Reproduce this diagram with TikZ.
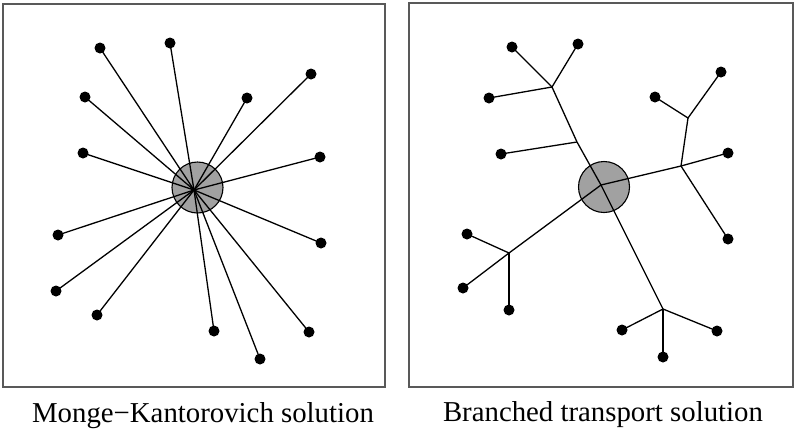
\documentclass[tikz,border=0pt]{standalone}
\usepackage{fontspec}
\setmainfont{Liberation Serif}
\begin{document}
\begin{tikzpicture}[x=1pt,y=-1pt,
  dot/.style={circle,fill=black,inner sep=0pt,minimum size=11pt},
  hub/.style={circle,draw=black,line width=1.1pt,fill=black!37,inner sep=0pt,minimum size=51pt},
  frame/.style={draw=black!65,line width=2pt},
  link/.style={line width=1.3pt},
  caption/.style={font=\fontsize{28.8}{32}\selectfont,anchor=base}]
\useasboundingbox (0,0) rectangle (801,429);
% frames
\draw[frame] (3,4) rectangle (385,387);
\draw[frame] (409,3) rectangle (793,387);
% ---------- Monge-Kantorovich ----------
\node[hub] (LH) at (197.5,187.5) {};
\coordinate (LC) at (194,190);
\foreach \n/\x/\y in {1/100/48,2/170/43,3/85/97,4/247/98,5/311/74,6/83/153,7/320/157,
  8/58/235,9/321/243,10/56/291,11/97/315,12/214/331,13/309/332,14/260/359}{
  \node[dot] (L\n) at (\x,\y) {};
  \draw[link] (LC) -- (L\n.center);
}
% ---------- Branched ----------
\node[hub] (RH) at (604,187) {};
\coordinate (RC) at (601,185);
\foreach \n/\x/\y in {a/512/47,b/578/44,c/489/98,d/501/154,e/655/97,f/721/72,g/728/153,
  h/728/239,i/467/234,j/463/288,k/509/310,l/622/330,m/717/331,n/663/357}{
  \node[dot] (R\n) at (\x,\y) {};
}
\coordinate (J1) at (552,87);
\coordinate (J2) at (577,142);
\coordinate (J3) at (688,118);
\coordinate (J4) at (681,166);
\coordinate (J5) at (663,309);
\coordinate (J6) at (509,253);
\draw[link] (J1) -- (J2) -- (RC) -- (J5);
\draw[link] (Ra.center) -- (J1) -- (Rb.center);
\draw[link] (Rc.center) -- (J1);
\draw[link] (Rd.center) -- (J2);
\draw[link] (Re.center) -- (J3) -- (Rf.center);
\draw[link] (J3) -- (J4);
\draw[link] (RC) -- (J4) -- (Rg.center);
\draw[link] (J4) -- (Rh.center);
\draw[link] (RC) -- (J6);
\draw[link] (Ri.center) -- (J6) -- (Rj.center);
\draw[link] (J6) -- (Rk.center);
\draw[link] (Rl.center) -- (J5) -- (Rm.center);
\draw[link] (J5) -- (Rn.center);
% captions
\node[caption] (capL) at (203,422) {Monge−Kantorovich solution};
\node[caption] (capR) at (603,421) {Branched transport solution};
\end{tikzpicture}
\end{document}
